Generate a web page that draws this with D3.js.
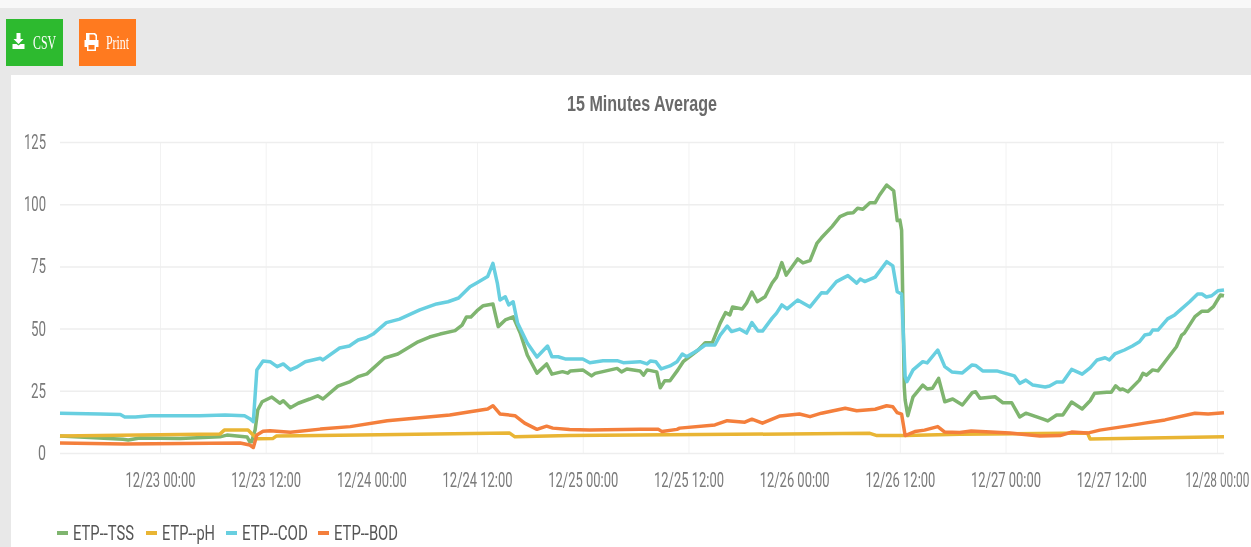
<!DOCTYPE html>
<html>
<head>
<meta charset="utf-8">
<script src="https://cdn.jsdelivr.net/npm/d3@7"></script>
<style>
html, body { margin: 0; padding: 0; background: #fff; overflow: hidden; }
svg { display: block; filter: blur(0.5px); }
text { font-family: Roboto, sans-serif; }
</style>
</head>
<body>
<script>
// tick labels and legend names
var yTicks = [0, 25, 50, 75, 100, 125];
var xTickHours = [0, 12, 24, 36, 48, 60, 72, 84, 96, 108, 120];
var xTickLabels = ['12/23 00:00', '12/23 12:00', '12/24 00:00', '12/24 12:00', '12/25 00:00', '12/25 12:00',
    '12/26 00:00', '12/26 12:00', '12/27 00:00', '12/27 12:00', '12/28 00:00'];
var seriesNames = ['ETP--TSS', 'ETP--pH', 'ETP--COD', 'ETP--BOD'];
var seriesColors = ['#7fb56f', '#e9b534', '#68cfe0', '#f47f3c'];

// readings as [hours since 12/23 00:00, value]
var tssPoints = [[-11.35,6.8],[-8,6.2],[-4.2,5.5],[-3.6,5.2],[-2.3,6],[2.3,5.8],[6.8,6.5],[7.6,7.2],[9.9,6.4],[10.2,4.5],[10.4,4.5],[10.8,9.2],[11.1,17.3],[11.6,20.6],[12.7,22.5],[13.6,20],[14,21],[14.8,18.2],[15.7,20],[17,21.7],[17.9,23],[18.5,21.7],[20.2,26.9],[21.6,28.7],[22.5,30.7],[23.5,31.8],[25.5,38.2],[27,39.8],[29.3,44.7],[30.6,46.6],[31.8,47.8],[33.5,49.2],[34.3,51.4],[34.8,54.7],[35.3,54.7],[36,57.2],[36.7,59.2],[37.5,59.7],[37.8,59.9],[38.4,50.8],[39.2,53.5],[40.1,54.7],[40.9,48.2],[41.7,39.4],[42.8,32.1],[43.9,35.8],[44.5,31.7],[45.7,32.7],[46.3,32.1],[46.6,33],[48,33.4],[49,31],[49.4,32],[51.9,34],[52.4,32.6],[53,33.8],[54.5,33],[54.9,31.3],[55.3,33.4],[56.4,32.6],[56.8,26.2],[57.3,29],[57.9,29],[58.8,33.4],[59.4,36.7],[61.1,41.4],[61.9,44.3],[62.7,44.3],[63.6,52.2],[64.2,56.4],[64.7,55.5],[65,58.7],[66.1,57.9],[66.6,60.3],[67.2,64.7],[67.8,60.8],[68.7,62.8],[69.5,68.3],[70,70.7],[70.6,76.5],[71.1,71.5],[72.4,78],[73,76.4],[73.8,77.3],[74.6,84.4],[75.1,86.5],[76.3,91],[77.2,95],[78.1,96.4],[78.7,96.6],[79.2,98.4],[79.8,98],[80.6,100.6],[81.2,100.6],[81.7,103.7],[82.5,107.7],[83.3,105.4],[83.7,93.4],[84,93.6],[84.2,89.6],[84.5,26.6],[84.6,21.3],[84.9,15],[85.5,22.6],[86.6,27.3],[87.1,25.7],[87.7,26],[88.4,30],[89.1,20.6],[90,21.7],[91.1,19.3],[92.2,24.2],[92.6,24.6],[93.1,22],[94.8,22.6],[95.7,20.2],[96.7,20.2],[97.6,14.5],[98.3,16],[100.2,13.7],[100.8,12.9],[101.8,15.3],[102.5,15.3],[103.5,20.5],[104.7,17.7],[105.6,21],[106.1,24],[107.5,24.4],[108,24.4],[108.5,27],[109,25.4],[109.3,25.7],[109.9,24.6],[111.2,29.3],[111.6,32],[112,31.3],[112.7,33.4],[113.3,33],[114.1,36.7],[115.4,42.7],[116,47.4],[116.3,48.2],[117.5,54.8],[118.3,57],[119,57],[119.6,58.8],[120.4,63.5],[120.8,63.2]];
var phPoints = [[-11.35,6.8],[6.8,7.6],[7.3,9.2],[10,9.2],[10.8,6.4],[11.1,5.7],[12.8,5.8],[13.2,6.8],[22.7,7.2],[39.7,8],[40.3,6.5],[46.5,7],[80.6,7.9],[81.4,7],[84.6,7],[90.8,7.5],[105.3,8],[105.6,5.6],[120.8,6.5]];
var codPoints = [[-11.35,16],[-6.8,15.7],[-4.5,15.5],[-4,14.5],[-2.8,14.5],[-1.1,15],[4.5,15],[7.4,15.3],[9.6,15],[10.2,13.8],[10.6,12.6],[11,33.4],[11.7,37],[12.5,36.7],[13.3,34.7],[14,35.8],[14.8,33.4],[15.5,34.5],[16.5,36.7],[18.2,38.1],[18.5,37.4],[20.4,42.2],[21.5,43],[22.5,45.4],[23.4,46.3],[24.2,47.8],[25.7,52.4],[27.2,53.8],[29.5,57.5],[31.4,59.9],[32.7,60.8],[33.9,62.3],[35.2,66.8],[36,68.4],[37.2,70.9],[37.8,76.2],[38.3,68.3],[38.6,61.5],[39.2,62.8],[39.6,59.5],[40.1,60.8],[40.6,52.2],[41.7,44.2],[42.8,38.6],[44,43],[44.5,38.7],[45.2,38.7],[46,37.8],[48,37.8],[48.8,36.3],[50.3,37.1],[51.9,37.1],[52.6,36.3],[54.5,36.7],[55.3,35.8],[55.7,37],[56.3,36.7],[56.9,33.8],[57.9,35],[58.7,36.7],[59.3,39.8],[59.8,38.7],[61.1,41.4],[61.9,43.4],[63,43.4],[63.6,47.4],[64.4,51],[64.9,48.8],[65.8,49.8],[66.6,48.2],[67.2,52.4],[67.9,49],[68.4,49],[69.5,54.2],[70,56.2],[70.6,59.5],[71.2,57.9],[72.4,61.5],[73.8,58.7],[75.1,64.4],[75.7,64.3],[76.8,68.9],[78.1,71.3],[79.1,68.3],[79.5,69.9],[80,68.9],[81.2,70.7],[82.5,76.9],[83.2,75.2],[83.7,64.8],[84.2,63.9],[84.6,30.7],[84.8,28.7],[85.5,33.4],[86.6,36.7],[87.1,36.2],[88.3,41.4],[89.1,34.7],[89.9,32.6],[91.1,32.2],[92.2,35.4],[92.6,35.2],[93.4,33],[95,33],[97,31],[97.6,28],[98.3,29.3],[99.1,27.3],[100.5,26.5],[101,26.9],[101.8,28.5],[102.5,28.5],[103.5,33.6],[104.7,31.7],[105.6,34.2],[106.4,37.4],[107.3,38.3],[107.8,37.4],[108.4,39.8],[109.5,41.4],[110.4,43],[111.2,44.7],[111.8,47.4],[112.4,47.8],[112.7,49.4],[113.3,49.4],[114.4,53.9],[115.2,55.5],[116.9,60.8],[117.8,63.9],[118.3,63.9],[118.8,62.7],[119.4,63.2],[120.1,65.2],[120.8,65.5]];
var bodPoints = [[-11.35,4],[-4,3.6],[9.1,4],[10.2,3.2],[10.6,2.2],[11,7.2],[11.7,8.7],[12.5,8.9],[14.8,8.3],[18.2,9.6],[21.6,10.6],[25.8,13],[32.9,15.3],[35.2,16.6],[37.2,17.7],[37.8,19],[38.6,15.7],[40.3,15],[41.4,12],[42.8,9.5],[43.9,10.8],[44.6,10],[46.5,9.4],[48.8,9.2],[54.5,9.5],[56.6,9.5],[57,8.6],[58.7,9.5],[59,10],[63,11.3],[64.4,13],[66.4,12.4],[67.2,13.6],[68.4,12],[70.4,14.9],[72.6,15.7],[73.8,14.6],[75.1,16],[77.8,18],[79.1,17],[81.2,17.6],[82.5,19],[83.2,18.6],[83.7,16.2],[84.2,15.6],[84.6,7],[85.7,8.6],[86.8,9.2],[88.3,10.6],[89.1,8.4],[90.8,8.2],[92.1,8.8],[96.5,8],[99.9,6.8],[102.2,7],[103.5,8.4],[105.3,8],[106.7,9.2],[110.1,11],[111.8,12],[114.1,13.3],[117.5,16],[119,15.7],[120.8,16.2]];
var seriesPoints = [tssPoints, phPoints, codPoints, bodPoints];

var svgWidth = 1251;
var svgHeight = 547;

var svg = d3.select('body').append('svg').attr('width', svgWidth).attr('height', svgHeight);

// page background and the white chart panel
svg.append('rect').attr('width', svgWidth).attr('height', 8).attr('fill', '#f8f8f8');
svg.append('rect').attr('y', 8).attr('width', svgWidth).attr('height', 67).attr('fill', '#e8e8e8');
svg.append('rect').attr('y', 75).attr('width', 11).attr('height', svgHeight - 75).attr('fill', '#e8e8e8');
svg.append('rect').attr('x', 11).attr('y', 75).attr('width', 1240).attr('height', svgHeight - 75).attr('fill', '#fff');

// buttons
svg.append('rect').attr('x', 6).attr('y', 19).attr('width', 57).attr('height', 47).attr('fill', '#2dba2f');
svg.append('rect').attr('x', 79).attr('y', 19).attr('width', 57).attr('height', 47).attr('fill', '#ff7a1f');
svg.append('path').attr('fill', '#fff')
    .attr('d', 'M16.5 33h4v6h3l-5 5-5-5h3z M12.500 44h4l2 1.500 2-1.500h4v5h-12z');
svg.append('path').attr('fill', '#fff').attr('fill-rule', 'evenodd')
    .attr('d', 'M88 33h7l2 2v5h1.500v7h-2.500v4h-9v-4h-2.500v-7h1.500v-7z M89.500 34.500v5.500h6v-4l-1.500-1.500z M88.500 45v4.500h6v-4.500z');
svg.append('text').attr('x', 33).attr('y', 49).text('CSV').attr('fill', '#fff')
    .style('font-family', '"Liberation Serif", serif').style('font-size', '18px')
    .attr('textLength', 23).attr('lengthAdjust', 'spacingAndGlyphs');
svg.append('text').attr('x', 106).attr('y', 49).text('Print').attr('fill', '#fff')
    .style('font-family', '"Liberation Serif", serif').style('font-size', '18px')
    .attr('textLength', 23).attr('lengthAdjust', 'spacingAndGlyphs');

// title
svg.append('text').attr('x', 642).attr('y', 111).attr('text-anchor', 'middle')
    .text('15 Minutes Average').attr('fill', '#6a6a6a').attr('font-weight', 'bold')
    .style('font-family', '"Liberation Sans", sans-serif').style('font-size', '22px')
    .attr('textLength', 150).attr('lengthAdjust', 'spacingAndGlyphs');

// chart area
var margin = { top: 142, left: 60 };
var chartWidth = 1164;
var chartHeight = 311;
var chartGroup = svg.append('g').attr('transform', `translate(${margin.left},${margin.top})`);

var xScale = d3.scaleLinear().domain([-11.35, 120.8]).range([0, chartWidth]);
var yScale = d3.scaleLinear().domain([0, 125]).range([chartHeight, 0]);

var bottomAxis = d3.axisBottom(xScale).tickValues(xTickHours)
    .tickFormat((d, i) => xTickLabels[i]).tickSize(-chartHeight).tickPadding(20);
var leftAxis = d3.axisLeft(yScale).tickValues(yTicks).tickSize(-chartWidth).tickPadding(14);

var xAxisGroup = chartGroup.append('g').attr('transform', `translate(0,${chartHeight})`).call(bottomAxis);
var yAxisGroup = chartGroup.append('g').call(leftAxis);

[xAxisGroup, yAxisGroup].forEach(g => {
    g.select('.domain').remove();
    g.selectAll('text').attr('fill', '#7a7a7a').style('font-size', '20px');
});
xAxisGroup.selectAll('line').attr('stroke', '#f2f2f2').attr('stroke-width', 1);
yAxisGroup.selectAll('line').attr('stroke', '#eeeeee').attr('stroke-width', 1.5);
// squeeze the x labels with a real scale; the last one stops short of the window edge
xAxisGroup.selectAll('text').attr('transform', function(d) {
    var target = d === 120 ? 64 : 70;
    return `scale(${target / this.getComputedTextLength()},1)`;
});
yAxisGroup.selectAll('text').attr('textLength', d => d >= 100 ? 22 : (d === 0 ? 8 : 15)).attr('lengthAdjust', 'spacingAndGlyphs');

// series lines
var line = d3.line().x(d => xScale(d[0])).y(d => yScale(d[1]));
chartGroup.append('g').selectAll('path')
    .data(seriesPoints)
    .enter()
    .append('path')
    .attr('d', line)
    .attr('fill', 'none')
    .attr('stroke', (d, i) => seriesColors[i])
    .attr('stroke-width', 3.5)
    .attr('stroke-linejoin', 'round');

// legend
var legendBarX = [57, 146, 226, 318];
var legendTextWidth = [61, 53, 66, 64];
var legend = svg.append('g').selectAll('g')
    .data(seriesNames)
    .enter()
    .append('g')
    .attr('transform', (d, i) => `translate(${legendBarX[i]},533)`);
legend.append('line').attr('x1', 0).attr('x2', 11)
    .attr('stroke', (d, i) => seriesColors[i]).attr('stroke-width', 4);
legend.append('text').attr('x', 16).attr('y', 7).text(d => d).attr('fill', '#555')
    .style('font-size', '20px')
    .attr('textLength', (d, i) => legendTextWidth[i]).attr('lengthAdjust', 'spacingAndGlyphs');
</script>
</body>
</html>
